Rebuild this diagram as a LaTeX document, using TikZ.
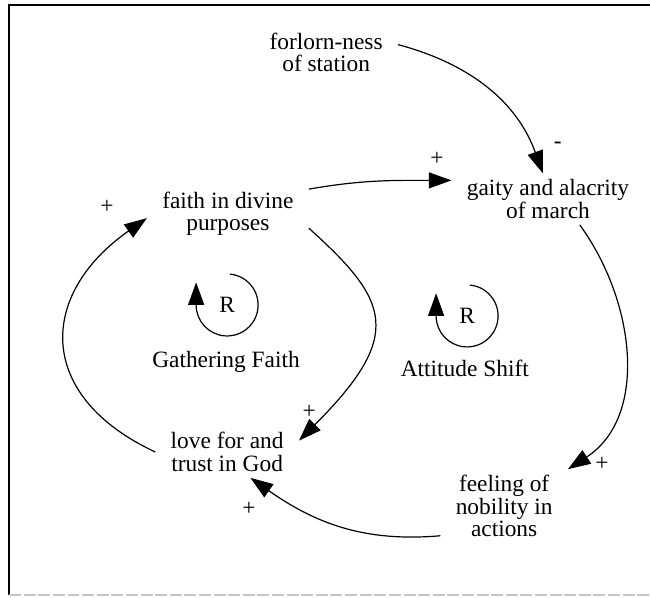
\documentclass[tikz,border=0pt]{standalone}
\usepackage{fontspec}
\setmainfont{Liberation Serif}
\usetikzlibrary{arrows.meta}
\tikzset{
  var/.style={align=center, inner xsep=0.4cm, inner ysep=0.16cm, font=\fontsize{17.6}{16.9}\selectfont},
  sign/.style={inner sep=0pt, font=\fontsize{17.6}{16.9}\selectfont},
  link/.style={line width=0.9pt, -{Triangle[length=17pt, width=12pt]}}
}

\begin{document}
\begin{tikzpicture}
  \useasboundingbox (0,0) rectangle (17.2,-15.8);
  \draw[line width=0.9pt] (0.24,-15.74) -- (0.24,-0.13) -- (17.2,-0.13);
  \draw[gray!45, line width=1.2pt, dash pattern=on 9pt off 2pt] (0.24,-15.74) -- (17.2,-15.74);
  \node[var] (forlorn) at (8.63,-1.38) {forlorn-ness\\of station};
  \node[var] (faith) at (6.03,-5.66) {faith in divine\\purposes};
  \node[var] (gaity) at (14.50,-5.27) {gaity and alacrity\\of march};
  \node[var] (love) at (6.01,-11.96) {love for and\\trust in God};
  \node[var] (feeling) at (13.34,-13.39) {feeling of\\nobility in\\actions};
  \node[sign] (r1) at (6.01,-8.07) {R};
  \node[sign] (r2) at (12.36,-8.36) {R};
  \node[sign] (gather) at (5.98,-9.58) {Gathering Faith};
  \node[sign] (shift) at (12.30,-9.76) {Attitude Shift};
  \node[sign] (minusA) at (14.76,-3.84) {-};
  \node[sign] (plusA) at (11.56,-4.21) {+};
  \node[sign] (plusB) at (2.83,-5.48) {+};
  \node[sign] (plusC) at (8.18,-10.90) {+};
  \node[sign] (plusD) at (15.93,-12.28) {+};
  \node[sign] (plusE) at (6.59,-13.47) {+};
  \draw[link] (forlorn.6) to[out=-15, in=110] (gaity.101);
  \draw[link] (faith.17) to[out=10, in=180] (gaity.169);
  \draw[link] (faith.-10) to[out=-42, in=45, out looseness=1.3, in looseness=1.8] (love.9);
  \draw[link] (love.180) to[out=155, in=215, looseness=1.45] (faith.183);
  \draw[link] (gaity.-39) to[out=-54, in=33] (feeling.30);
  \draw[link] (feeling.205) to[out=185, in=-35] (love.-48);
  \draw[link] (r1.center) ++(85:0.82) arc[start angle=85, end angle=-180, radius=0.82] -- ++(0,0.6);
  \draw[link] (r2.center) ++(85:0.82) arc[start angle=85, end angle=-180, radius=0.82] -- ++(0,0.6);
\end{tikzpicture}
\end{document}
